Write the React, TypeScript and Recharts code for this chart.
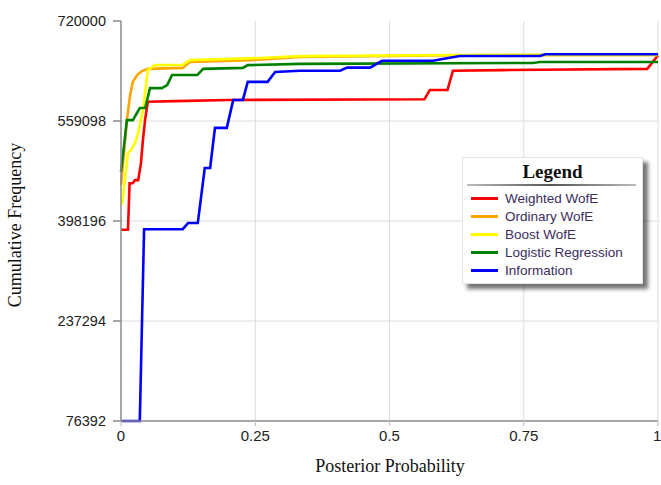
import React from 'react';
import { LineChart, Line, XAxis, YAxis, CartesianGrid, Legend, Label } from 'recharts';

// [posterior probability, cumulative frequency]
const weightedWofE: [number, number][] = [
  [0, 384000], [0.013, 384000], [0.016, 459000], [0.022, 459000], [0.026, 464000],
  [0.032, 464000], [0.037, 490000], [0.041, 530000], [0.045, 562000], [0.05, 590000],
  [0.1, 591000], [0.2, 593000], [0.565, 594000], [0.575, 609000], [0.608, 609000],
  [0.618, 640000], [0.71, 641000], [0.98, 643000], [1, 665000],
];

const ordinaryWofE: [number, number][] = [
  [0, 456000], [0.006, 512000], [0.011, 561000], [0.017, 601000], [0.022, 622000],
  [0.03, 633000], [0.039, 639500], [0.05, 643000], [0.115, 644500], [0.128, 654000],
  [0.24, 657000], [0.333, 662000], [0.63, 665000], [1, 665500],
];

const boostWofE: [number, number][] = [
  [0.002, 424000], [0.013, 507500], [0.019, 512500], [0.026, 523500], [0.032, 540000],
  [0.041, 577000], [0.05, 641000], [0.063, 649000], [0.115, 649500], [0.128, 657000],
  [0.26, 660500], [0.333, 663500], [0.63, 665300], [1, 665500],
];

const logisticRegression: [number, number][] = [
  [0, 477000], [0.011, 560500], [0.022, 560500], [0.035, 580000], [0.045, 580000],
  [0.054, 612000], [0.076, 612000], [0.086, 617000], [0.095, 633000], [0.142, 633000],
  [0.153, 643000], [0.227, 644500], [0.236, 649000], [0.333, 651000], [0.767, 652500],
  [0.78, 654000], [1, 654000],
];

const information: [number, number][] = [
  [0, 76392], [0.035, 76392], [0.043, 385000], [0.115, 385000], [0.125, 395000],
  [0.143, 395000], [0.156, 483500], [0.166, 483500], [0.175, 548000], [0.197, 548000],
  [0.209, 593000], [0.227, 593000], [0.236, 622000], [0.273, 622000], [0.287, 638000],
  [0.333, 640000], [0.408, 640000], [0.421, 645000], [0.464, 645000], [0.486, 656000],
  [0.581, 656000], [0.607, 660000], [0.631, 663700], [0.78, 663700], [0.79, 666400],
  [1, 666400],
];

const yTicks = [76392, 237294, 398196, 559098, 720000];
const xTicks = [0, 0.25, 0.5, 0.75, 1];

const series = [
  { name: 'Weighted WofE', color: '#ff0000', points: weightedWofE },
  { name: 'Ordinary WofE', color: '#ffa500', points: ordinaryWofE },
  { name: 'Boost WofE', color: '#ffff00', points: boostWofE },
  { name: 'Logistic Regression', color: '#008000', points: logisticRegression },
  { name: 'Information', color: '#0000ff', points: information },
];

const toRows = (points: [number, number][]) => points.map(([p, v]) => ({ p, v }));

const renderLegend = () => (
  <div
    style={{
      width: 181,
      background: '#fff',
      border: '1px solid #e4e4e4',
      boxShadow: '5px 5px 4px rgba(0,0,0,0.55)',
      padding: '4px 0 4px 0',
      boxSizing: 'border-box',
    }}
  >
    <div
      style={{
        fontFamily: '"Liberation Serif", serif',
        fontWeight: 'bold',
        fontSize: 19,
        textAlign: 'center',
        lineHeight: '20px',
        color: '#111',
      }}
    >
      Legend
    </div>
    <div style={{ height: 2, margin: '2px 6px 3px 4px', background: 'linear-gradient(to right, #bbb, #555, #bbb)' }} />
    {series.map((s) => (
      <div key={s.name} style={{ display: 'flex', alignItems: 'center', height: 18 }}>
        <div style={{ width: 27, height: 3, background: s.color, marginLeft: 8, marginRight: 7 }} />
        <span style={{ fontFamily: '"Liberation Sans", Arial, sans-serif', fontSize: 13.5, color: '#3b2d5c' }}>
          {s.name}
        </span>
      </div>
    ))}
  </div>
);

export default function App() {
  return (
    <div style={{ position: 'absolute', left: 0, top: 0, width: 661, height: 485, background: '#fff' }}>
      <LineChart width={661} height={485} margin={{ top: 21, right: 3, bottom: 0, left: 0 }}>
        <CartesianGrid
          stroke="#dcdcdc"
          strokeWidth={1}
          horizontalValues={[237294, 398196, 559098]}
          verticalValues={[0.25, 0.5, 0.75, 1]}
        />
        <XAxis
          type="number"
          dataKey="p"
          domain={[0, 1]}
          ticks={xTicks}
          allowDuplicatedCategory={false}
          height={64}
          tickSize={5}
          tickMargin={4}
          stroke="#8a8a8a"
          strokeWidth={1.5}
          tickLine={{ stroke: '#cfcfcf' }}
          tick={{ fill: '#222', fontSize: 15, fontFamily: '"Liberation Sans", Arial, sans-serif' }}
          tickFormatter={(v) => String(v)}
        >
          <Label
            content={() => (
              <text
                x={390}
                y={472}
                textAnchor="middle"
                fontFamily='"Liberation Serif", serif'
                fontSize={18}
                fill="#111"
              >
                Posterior Probability
              </text>
            )}
          />
        </XAxis>
        <YAxis
          type="number"
          dataKey="v"
          domain={[76392, 720000]}
          ticks={yTicks}
          width={121}
          tickSize={8}
          tickMargin={7}
          stroke="#8a8a8a"
          strokeWidth={1.5}
          tick={{ fill: '#222', fontSize: 14.5, fontFamily: '"Liberation Sans", Arial, sans-serif' }}
        >
          <Label
            content={() => (
              <text
                x={21}
                y={225}
                textAnchor="middle"
                transform="rotate(-90 21 225)"
                fontFamily='"Liberation Serif", serif'
                fontSize={18}
                fill="#111"
              >
                Cumulative Frequency
              </text>
            )}
          />
        </YAxis>
        <Legend
          content={renderLegend}
          layout="horizontal"
          align="center"
          verticalAlign="middle"
          wrapperStyle={{ left: 462, top: 157, width: 181 }}
        />
        {series.map((s) => (
          <Line
            key={s.name}
            name={s.name}
            data={toRows(s.points)}
            dataKey="v"
            type="linear"
            stroke={s.color}
            strokeWidth={2.6}
            dot={false}
            activeDot={false}
            isAnimationActive={false}
          />
        ))}
      </LineChart>
    </div>
  );
}
